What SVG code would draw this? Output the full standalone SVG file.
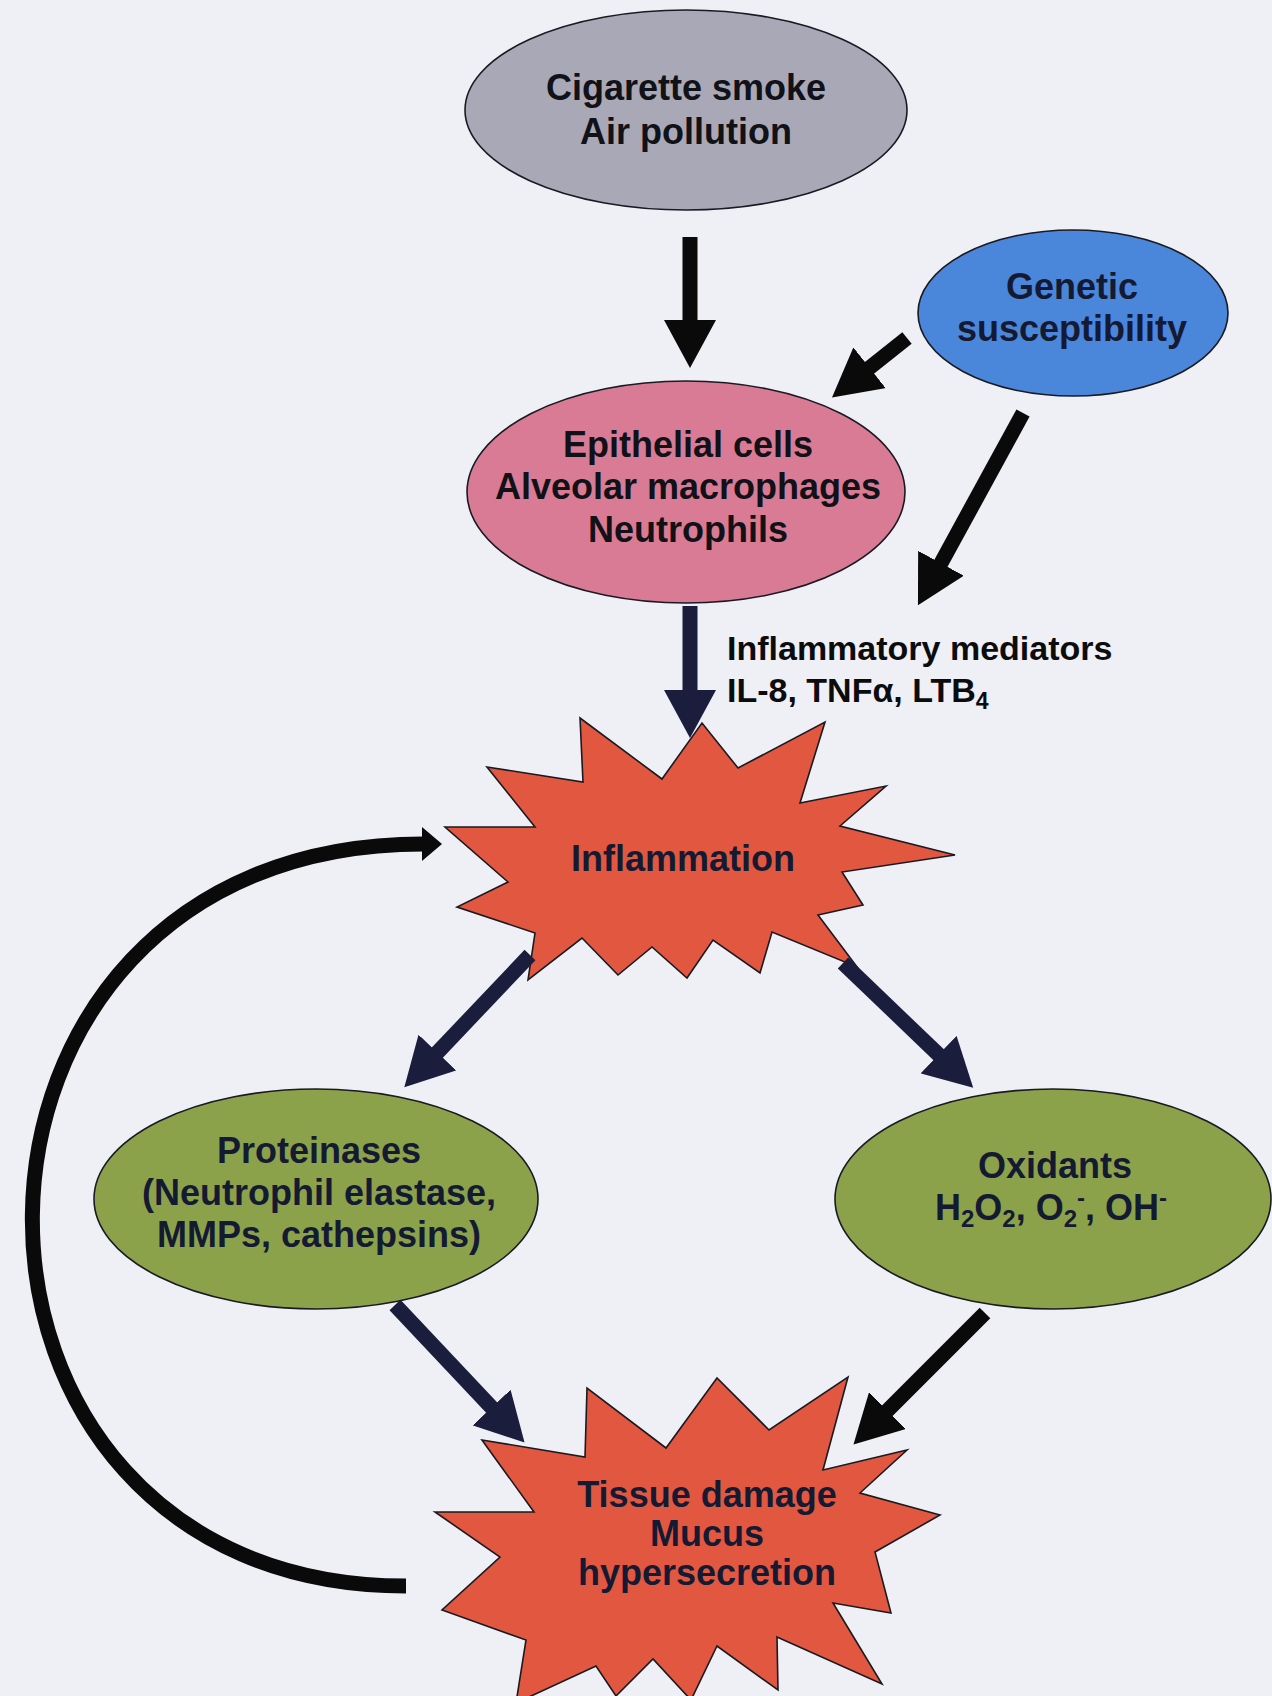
<svg xmlns="http://www.w3.org/2000/svg" width="1272" height="1696" viewBox="0 0 1272 1696">
  <defs>
    <style>
      .lbl { font-family: "Liberation Sans", Arial, sans-serif; font-weight: bold; font-size: 36px; fill: #111118; text-anchor: middle; }
      .navytxt { fill: #151a33; }
      .med { font-family: "Liberation Sans", Arial, sans-serif; font-weight: bold; font-size: 34px; fill: #0c0c0c; }
      .shape { stroke: #1a1a22; stroke-width: 1.6; }
      .star { fill: #e2573f; stroke: #1a1a22; stroke-width: 1.6; stroke-linejoin: miter; }
      .blk { stroke: #0a0a0a; stroke-width: 15; fill: none; }
      .nvy { stroke: #1b1d3d; stroke-width: 15; fill: none; }
      .loop { stroke: #0a0a0a; stroke-width: 15; fill: none; }
    </style>
    <marker id="hb" markerUnits="userSpaceOnUse" markerWidth="48" markerHeight="52" refX="2" refY="26" orient="auto" viewBox="0 0 48 52">
      <path d="M0,0 L48,26 L0,52 Z" fill="#0a0a0a"/>
    </marker>
    <marker id="hn" markerUnits="userSpaceOnUse" markerWidth="48" markerHeight="52" refX="2" refY="26" orient="auto" viewBox="0 0 48 52">
      <path d="M0,0 L48,26 L0,52 Z" fill="#1b1d3d"/>
    </marker>
    <marker id="hl" markerUnits="userSpaceOnUse" markerWidth="20" markerHeight="34" refX="1" refY="17" orient="auto" viewBox="0 0 20 34">
      <path d="M0,0 L20,17 L0,34 Z" fill="#0a0a0a"/>
    </marker>
  </defs>

  <rect x="0" y="0" width="1272" height="1696" fill="#efeff6"/>

  <g id="node-cigarette">
    <ellipse class="shape" cx="686" cy="110" rx="221" ry="100" fill="#a8a8b7"/>
    <text class="lbl" x="686" y="100">Cigarette smoke</text>
    <text class="lbl" x="686" y="144">Air pollution</text>
  </g>

  <g id="node-genetic">
    <ellipse class="shape" cx="1073" cy="313" rx="155" ry="83" fill="#4a86da"/>
    <text class="lbl navytxt" x="1072" y="299">Genetic</text>
    <text class="lbl navytxt" x="1072" y="341">susceptibility</text>
  </g>

  <g id="node-epithelial">
    <ellipse class="shape" cx="686" cy="492" rx="219" ry="111" fill="#d97b94"/>
    <text class="lbl" x="688" y="457">Epithelial cells</text>
    <text class="lbl" x="688" y="499">Alveolar macrophages</text>
    <text class="lbl" x="688" y="542">Neutrophils</text>
  </g>

  <g id="node-mediators">
    <text class="med" x="727" y="660">Inflammatory mediators</text>
    <text class="med" x="727" y="702">IL-8, TNFα, LTB<tspan font-size="23" dy="7">4</tspan></text>
  </g>

  <g id="node-inflammation">
    <polygon class="star" points="487,767 583,782 580,718 662,779 702,723 738,768 825,722 800,803 886,786 840,826 955,855 842,872 863,905 818,915 857,967 772,932 760,973 713,940 687,978 652,947 618,975 582,938 528,980 535,933 457,907 508,882 445,827 535,827"/>
    <text class="lbl navytxt" x="683" y="871">Inflammation</text>
  </g>

  <g id="node-proteinases">
    <ellipse class="shape" cx="316" cy="1199" rx="222" ry="110" fill="#8ba24b"/>
    <text class="lbl navytxt" x="319" y="1163">Proteinases</text>
    <text class="lbl navytxt" x="319" y="1205">(Neutrophil elastase,</text>
    <text class="lbl navytxt" x="319" y="1247">MMPs, cathepsins)</text>
  </g>

  <g id="node-oxidants">
    <ellipse class="shape" cx="1053" cy="1199" rx="218" ry="110" fill="#8ba24b"/>
    <text class="lbl navytxt" x="1055" y="1178">Oxidants</text>
    <text class="lbl navytxt" x="1051" y="1220">H<tspan font-size="24" dy="7">2</tspan><tspan dy="-7">O</tspan><tspan font-size="24" dy="7">2</tspan><tspan dy="-7">, O</tspan><tspan font-size="24" dy="7">2</tspan><tspan font-size="24" dy="-21">-</tspan><tspan dy="14">, OH</tspan><tspan font-size="24" dy="-14">-</tspan></text>
  </g>

  <g id="node-tissue">
    <polygon class="star" points="482,1440 585,1457 587,1388 666,1448 717,1378 769,1430 848,1377 823,1470 907,1450 860,1493 940,1515 875,1552 891,1613 833,1603 882,1684 777,1637 778,1690 717,1646 691,1700 653,1659 616,1696 596,1666 516,1703 526,1640 442,1610 500,1557 435,1512 534,1512"/>
    <text class="lbl navytxt" x="707" y="1507">Tissue damage</text>
    <text class="lbl navytxt" x="707" y="1546">Mucus</text>
    <text class="lbl navytxt" x="707" y="1585">hypersecretion</text>
  </g>

  <g id="connectors">
    <line class="blk" x1="690" y1="237" x2="690" y2="322" marker-end="url(#hb)"/>
    <line class="blk" x1="907" y1="338" x2="868" y2="369" marker-end="url(#hb)"/>
    <line class="blk" x1="1023" y1="413" x2="940" y2="565" marker-end="url(#hb)"/>
    <line class="nvy" x1="690" y1="606" x2="690" y2="692" marker-end="url(#hn)"/>
    <line class="nvy" x1="530" y1="955" x2="436" y2="1054" marker-end="url(#hn)"/>
    <line class="nvy" x1="843" y1="963" x2="940" y2="1056" marker-end="url(#hn)"/>
    <line class="nvy" x1="395" y1="1305" x2="493" y2="1409" marker-end="url(#hn)"/>
    <line class="blk" x1="985" y1="1313" x2="886" y2="1412" marker-end="url(#hb)"/>
    <path class="loop" d="M 406 1586 C -95 1586, -95 844, 423 844" marker-end="url(#hl)"/>
  </g>
</svg>
